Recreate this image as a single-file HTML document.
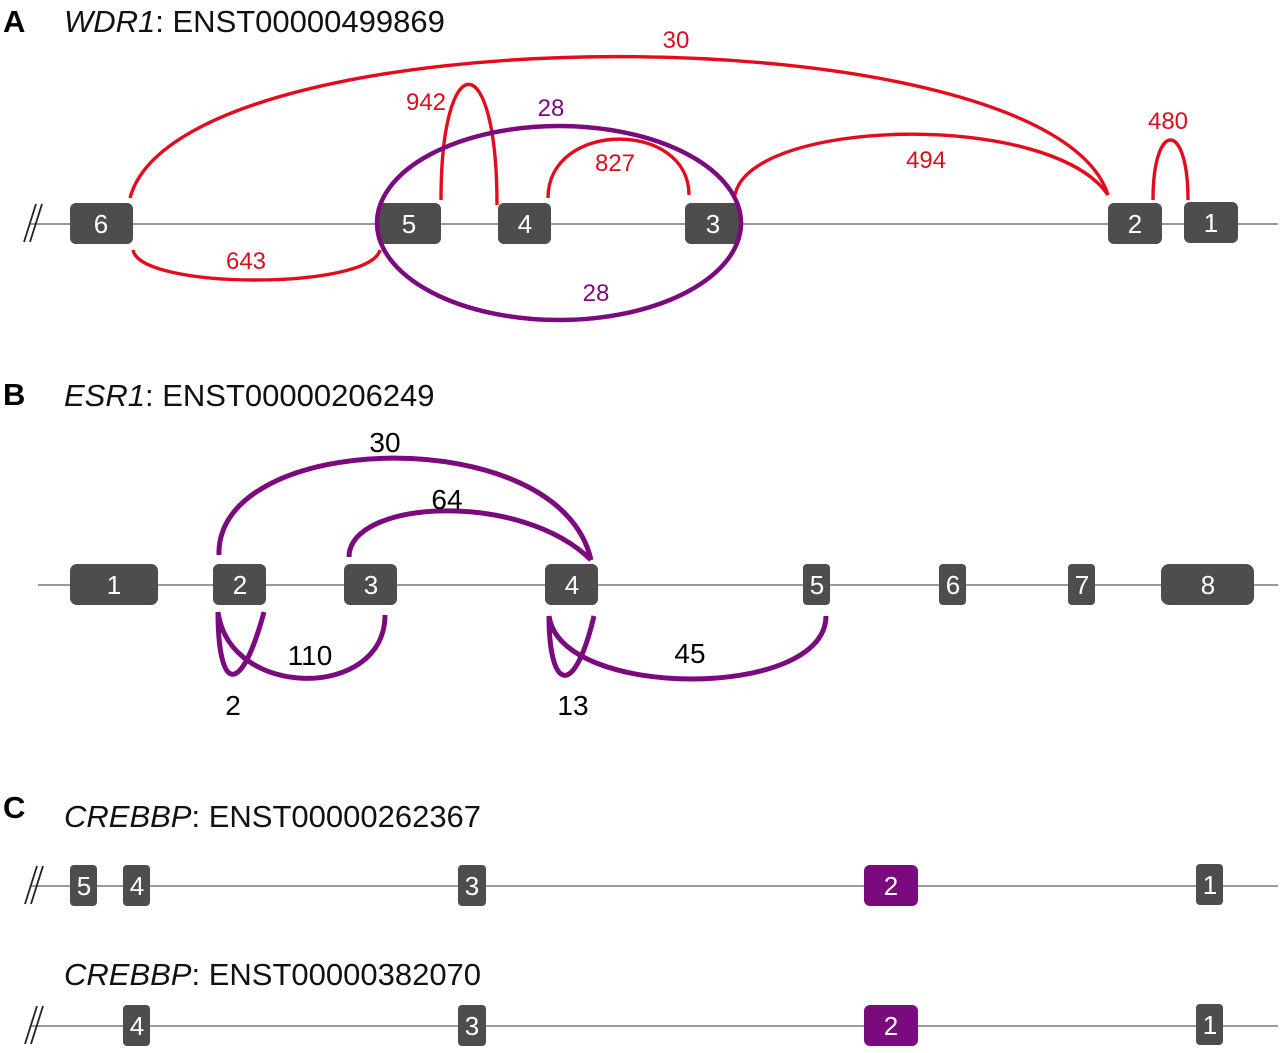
<!DOCTYPE html>
<html><head><meta charset="utf-8"><style>
html,body{margin:0;padding:0;background:#fff;}
svg{display:block;}
text{font-family:"Liberation Sans",sans-serif;}
.t{font-size:31px;fill:#111;}
.L{font-size:31px;font-weight:bold;fill:#000;}
.ex{fill:#4d4d4d;}
.en{fill:#fff;font-size:26px;text-anchor:middle;}
.r{fill:none;stroke:#e30c1c;stroke-width:3.4;}
.rl{fill:#d8101e;font-size:24px;text-anchor:middle;}
.p{fill:none;stroke:#7a0a7e;stroke-width:5;}
.pl{fill:#7a0a7e;font-size:24px;text-anchor:middle;}
.bl{fill:#000;font-size:28px;text-anchor:middle;}
.ln{stroke:#777;stroke-width:1.6;}
.sl{stroke:#222;stroke-width:1.8;}
</style></head><body>
<svg width="1280" height="1053" viewBox="0 0 1280 1053" xmlns="http://www.w3.org/2000/svg">
<!-- Panel A -->
<text x="3" y="32" class="L">A</text>
<text x="64" y="32" class="t"><tspan font-style="italic">WDR1</tspan>: ENST00000499869</text>
<line x1="30" y1="224" x2="1278" y2="224" class="ln"/>
<line x1="24" y1="242" x2="36" y2="204" class="sl"/><line x1="30" y1="242" x2="42" y2="204" class="sl"/>
<path class="r" d="M130,198 C180,10 1050,10 1108,195"/>
<path class="r" d="M441,200 C441,45 497,45 497,205"/>
<path class="r" d="M548,198 C548,120 689,120 689,195"/>
<path class="r" d="M735,195 C750,118 1050,110 1108,195"/>
<path class="r" d="M1153,200 C1153,120 1188,120 1188,200"/>
<path class="r" d="M133,250 C140,290 370,290 380,250"/>
<g class="ex">
<rect x="70" y="203" width="63" height="41" rx="6"/>
<rect x="377" y="203" width="64" height="41" rx="6"/>
<rect x="498" y="203" width="53" height="41" rx="6"/>
<rect x="685" y="203" width="55" height="41" rx="6"/>
<rect x="1108" y="203" width="54" height="41" rx="6"/>
<rect x="1184" y="202" width="54" height="41" rx="6"/>
</g>
<g class="en">
<text x="101" y="233">6</text><text x="409" y="233">5</text><text x="525" y="233">4</text>
<text x="713" y="233">3</text><text x="1135" y="233">2</text><text x="1211" y="232">1</text>
</g>
<ellipse cx="559" cy="223" rx="182" ry="97" class="p" style="stroke-width:4.5"/>
<text x="676" y="48" class="rl">30</text>
<text x="426" y="110" class="rl">942</text>
<text x="551" y="116" class="pl">28</text>
<text x="615" y="171" class="rl">827</text>
<text x="926" y="168" class="rl">494</text>
<text x="1168" y="129" class="rl">480</text>
<text x="246" y="269" class="rl">643</text>
<text x="596" y="301" class="pl">28</text>

<!-- Panel B -->
<text x="3" y="405" class="L">B</text>
<text x="64" y="406" class="t"><tspan font-style="italic">ESR1</tspan>: ENST00000206249</text>
<line x1="38" y1="585" x2="1278" y2="585" class="ln"/>
<path class="p" d="M219,555 C215,430 560,420 591,560"/>
<path class="p" d="M349,557 C349,500 520,490 591,560"/>
<path class="p" d="M218,612 C218,690 240,700 264,612"/>
<path class="p" d="M218,612 C230,700 385,700 385,615"/>
<path class="p" d="M549,616 C549,690 574,700 594,616"/>
<path class="p" d="M549,616 C560,700 826,700 826,616"/>
<g class="ex">
<rect x="70" y="564" width="88" height="41" rx="7"/>
<rect x="213" y="564" width="53" height="41" rx="6"/>
<rect x="344" y="564" width="53" height="41" rx="6"/>
<rect x="545" y="564" width="53" height="41" rx="6"/>
<rect x="803" y="564" width="27" height="41" rx="4"/>
<rect x="939" y="564" width="27" height="41" rx="4"/>
<rect x="1068" y="564" width="27" height="41" rx="4"/>
<rect x="1161" y="564" width="93" height="41" rx="8"/>
</g>
<g class="en">
<text x="114" y="594">1</text><text x="240" y="594">2</text><text x="371" y="594">3</text>
<text x="572" y="594">4</text><text x="817" y="594">5</text><text x="953" y="594">6</text>
<text x="1082" y="594">7</text><text x="1208" y="594">8</text>
</g>
<text x="385" y="452" class="bl">30</text>
<text x="447" y="509" class="bl">64</text>
<text x="310" y="665" class="bl">110</text>
<text x="690" y="663" class="bl">45</text>
<text x="233" y="715" class="bl">2</text>
<text x="573" y="715" class="bl">13</text>

<!-- Panel C -->
<text x="3" y="818" class="L">C</text>
<text x="64" y="827" class="t"><tspan font-style="italic">CREBBP</tspan>: ENST00000262367</text>
<line x1="30" y1="886" x2="1278" y2="886" class="ln"/>
<line x1="25" y1="904" x2="37" y2="866" class="sl"/><line x1="31" y1="904" x2="43" y2="866" class="sl"/>
<g class="ex">
<rect x="70" y="865" width="27" height="41" rx="4"/>
<rect x="123" y="865" width="27" height="41" rx="4"/>
<rect x="458" y="865" width="28" height="41" rx="4"/>
<rect x="864" y="865" width="54" height="41" rx="6" fill="#7a0a7e"/>
<rect x="1196" y="864" width="27" height="41" rx="4"/>
</g>
<g class="en">
<text x="84" y="895">5</text><text x="137" y="895">4</text><text x="472" y="895">3</text>
<text x="891" y="895">2</text><text x="1210" y="894">1</text>
</g>
<text x="64" y="985" class="t"><tspan font-style="italic">CREBBP</tspan>: ENST00000382070</text>
<line x1="30" y1="1026" x2="1278" y2="1026" class="ln"/>
<line x1="25" y1="1044" x2="37" y2="1006" class="sl"/><line x1="31" y1="1044" x2="43" y2="1006" class="sl"/>
<g class="ex">
<rect x="123" y="1005" width="27" height="41" rx="4"/>
<rect x="458" y="1005" width="28" height="41" rx="4"/>
<rect x="864" y="1005" width="54" height="41" rx="6" fill="#7a0a7e"/>
<rect x="1196" y="1004" width="27" height="41" rx="4"/>
</g>
<g class="en">
<text x="137" y="1035">4</text><text x="472" y="1035">3</text>
<text x="891" y="1035">2</text><text x="1210" y="1034">1</text>
</g>
</svg>
</body></html>
